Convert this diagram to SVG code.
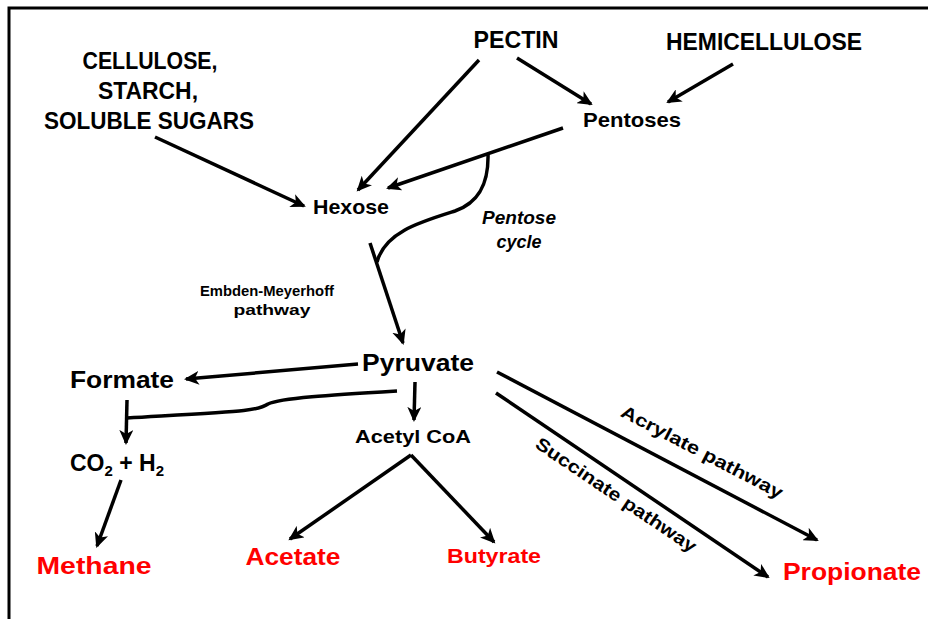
<svg xmlns="http://www.w3.org/2000/svg" width="928" height="619" viewBox="0 0 928 619">
<style>
text{font-family:"Liberation Sans",Arial,sans-serif;font-weight:bold;fill:#000;text-anchor:middle}
.red{fill:#ff0000}
.it{font-style:italic}
.c{fill:none;stroke:#000;stroke-width:3.5}
</style>
<defs>
<marker id="ah" markerWidth="16" markerHeight="14" refX="13" refY="7" orient="auto" markerUnits="userSpaceOnUse" viewBox="0 0 16 14">
<path d="M0,0 L15,7 L0,14 L4,7 z" fill="#000"/>
</marker>
</defs>
<rect width="928" height="619" fill="#fff"/>
<path d="M9,619 V8 H928" fill="none" stroke="#000" stroke-width="3"/>
<g id="connectors">
<line class="c" x1="479" y1="60" x2="358" y2="190" marker-end="url(#ah)"/>
<line class="c" x1="517" y1="58" x2="591" y2="104" marker-end="url(#ah)"/>
<line class="c" x1="733" y1="64" x2="668" y2="102" marker-end="url(#ah)"/>
<line class="c" x1="155" y1="137" x2="304" y2="206" marker-end="url(#ah)"/>
<line class="c" x1="563" y1="128" x2="388" y2="188" marker-end="url(#ah)"/>
<path class="c" d="M488,153 C489,185 478,203 455,211 C420,222 385,232 377,262"/>
<line class="c" x1="370" y1="243" x2="403" y2="343" marker-end="url(#ah)"/>
<line class="c" x1="358" y1="364" x2="186" y2="379" marker-end="url(#ah)"/>
<path class="c" d="M397,391 C330,395 280,398 268,404 C258,411 245,411 127,418"/>
<line class="c" x1="127" y1="400" x2="126" y2="443" marker-end="url(#ah)"/>
<line class="c" x1="415" y1="382" x2="414" y2="420" marker-end="url(#ah)"/>
<line class="c" x1="411" y1="455" x2="290" y2="539" marker-end="url(#ah)"/>
<line class="c" x1="411" y1="455" x2="494" y2="542" marker-end="url(#ah)"/>
<line class="c" x1="121" y1="480" x2="97" y2="546" marker-end="url(#ah)"/>
<line class="c" x1="497" y1="372" x2="817" y2="540" marker-end="url(#ah)"/>
<line class="c" x1="496" y1="393" x2="768" y2="577" marker-end="url(#ah)"/>
</g>
<g id="pectin"><text x="516" y="48" font-size="23" textLength="85" lengthAdjust="spacingAndGlyphs">PECTIN</text></g>
<g id="hemicellulose"><text x="764" y="50" font-size="23" textLength="196" lengthAdjust="spacingAndGlyphs">HEMICELLULOSE</text></g>
<g id="cellulose">
<text x="150" y="69" font-size="23" textLength="135" lengthAdjust="spacingAndGlyphs">CELLULOSE,</text>
<text x="148" y="99" font-size="23" textLength="100" lengthAdjust="spacingAndGlyphs">STARCH,</text>
<text x="149" y="129" font-size="23" textLength="210" lengthAdjust="spacingAndGlyphs">SOLUBLE SUGARS</text>
</g>
<g id="pentoses"><text x="632" y="127" font-size="21" textLength="98" lengthAdjust="spacingAndGlyphs">Pentoses</text></g>
<g id="hexose"><text x="351" y="214" font-size="21" textLength="76" lengthAdjust="spacingAndGlyphs">Hexose</text></g>
<g id="pentose-cycle">
<text class="it" x="519" y="224" font-size="18" textLength="74" lengthAdjust="spacingAndGlyphs">Pentose</text>
<text class="it" x="519" y="248" font-size="18" textLength="45" lengthAdjust="spacingAndGlyphs">cycle</text>
</g>
<g id="emp">
<text x="267" y="296" font-size="15" textLength="134" lengthAdjust="spacingAndGlyphs">Embden-Meyerhoff</text>
<text x="272" y="315" font-size="15" textLength="77" lengthAdjust="spacingAndGlyphs">pathway</text>
</g>
<g id="pyruvate"><text x="418" y="371" font-size="24" textLength="112" lengthAdjust="spacingAndGlyphs">Pyruvate</text></g>
<g id="formate"><text x="122" y="388" font-size="23" textLength="104" lengthAdjust="spacingAndGlyphs">Formate</text></g>
<g id="acetylcoa"><text x="413" y="443" font-size="19" textLength="116" lengthAdjust="spacingAndGlyphs">Acetyl CoA</text></g>
<g id="co2h2"><text x="70" y="471" font-size="23" style="text-anchor:start">CO<tspan font-size="15" dy="5">2</tspan><tspan dy="-5"> + H</tspan><tspan font-size="15" dy="5">2</tspan></text></g>
<g id="methane"><text class="red" x="94" y="574" font-size="23" textLength="115" lengthAdjust="spacingAndGlyphs">Methane</text></g>
<g id="acetate"><text class="red" x="293" y="565" font-size="23" textLength="95" lengthAdjust="spacingAndGlyphs">Acetate</text></g>
<g id="butyrate"><text class="red" x="494" y="563" font-size="21" textLength="94" lengthAdjust="spacingAndGlyphs">Butyrate</text></g>
<g id="propionate"><text class="red" x="852" y="580" font-size="23" textLength="138" lengthAdjust="spacingAndGlyphs">Propionate</text></g>
<g id="acrylate"><text transform="translate(702,452) rotate(27.6)" y="6" font-size="18" textLength="180" lengthAdjust="spacingAndGlyphs">Acrylate pathway</text></g>
<g id="succinate"><text transform="translate(616,495) rotate(34)" y="6" font-size="18" textLength="190" lengthAdjust="spacingAndGlyphs">Succinate pathway</text></g>
</svg>
